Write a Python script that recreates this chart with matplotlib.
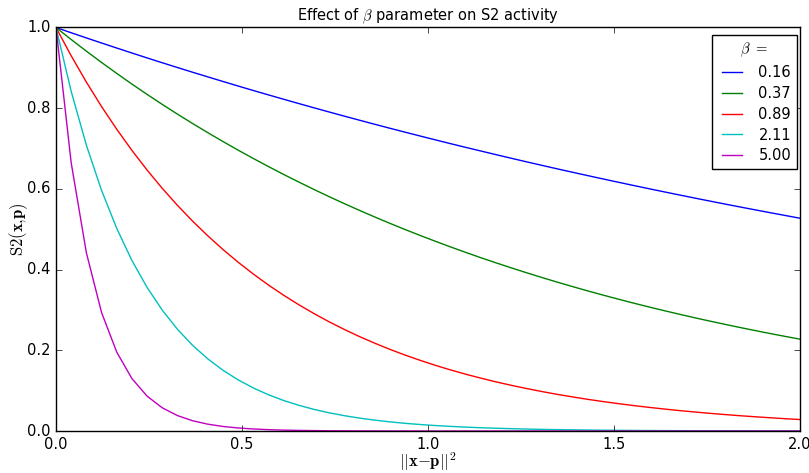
import matplotlib
matplotlib.use("Agg")
import matplotlib.pyplot as plt

plt.style.use("classic")
plt.rcParams["figure.facecolor"] = "white"
plt.rcParams["savefig.facecolor"] = "white"
plt.rcParams["mathtext.fontset"] = "cm"
plt.rcParams["font.size"] = 10.5

# sampling of ||x-p||^2 (50 points from 0 to 2)
dist = [0.0000, 0.0408, 0.0816, 0.1224, 0.1633, 0.2041, 0.2449, 0.2857, 0.3265, 0.3673,
        0.4082, 0.4490, 0.4898, 0.5306, 0.5714, 0.6122, 0.6531, 0.6939, 0.7347, 0.7755,
        0.8163, 0.8571, 0.8980, 0.9388, 0.9796, 1.0204, 1.0612, 1.1020, 1.1429, 1.1837,
        1.2245, 1.2653, 1.3061, 1.3469, 1.3878, 1.4286, 1.4694, 1.5102, 1.5510, 1.5918,
        1.6327, 1.6735, 1.7143, 1.7551, 1.7959, 1.8367, 1.8776, 1.9184, 1.9592, 2.0000]

betas = ["0.16", "0.37", "0.89", "2.11", "5.00"]

s2_b016 = [1.0000, 0.9870, 0.9742, 0.9616, 0.9491, 0.9368, 0.9246, 0.9126, 0.9008, 0.8891,
           0.8776, 0.8662, 0.8549, 0.8438, 0.8329, 0.8221, 0.8114, 0.8009, 0.7905, 0.7802,
           0.7701, 0.7601, 0.7502, 0.7405, 0.7309, 0.7214, 0.7120, 0.7028, 0.6937, 0.6847,
           0.6758, 0.6670, 0.6584, 0.6498, 0.6414, 0.6331, 0.6249, 0.6168, 0.6088, 0.6009,
           0.5931, 0.5854, 0.5778, 0.5703, 0.5629, 0.5556, 0.5484, 0.5413, 0.5343, 0.5273]

s2_b037 = [1.0000, 0.9702, 0.9414, 0.9134, 0.8862, 0.8598, 0.8342, 0.8094, 0.7853, 0.7620,
           0.7393, 0.7173, 0.6960, 0.6753, 0.6552, 0.6357, 0.6168, 0.5984, 0.5806, 0.5633,
           0.5466, 0.5303, 0.5145, 0.4992, 0.4844, 0.4700, 0.4560, 0.4424, 0.4292, 0.4165,
           0.4041, 0.3921, 0.3804, 0.3691, 0.3581, 0.3474, 0.3371, 0.3271, 0.3173, 0.3079,
           0.2987, 0.2899, 0.2812, 0.2729, 0.2648, 0.2569, 0.2492, 0.2418, 0.2346, 0.2276]

s2_b089 = [1.0000, 0.9299, 0.8648, 0.8042, 0.7478, 0.6954, 0.6467, 0.6013, 0.5592, 0.5200,
           0.4836, 0.4497, 0.4182, 0.3889, 0.3616, 0.3363, 0.3127, 0.2908, 0.2704, 0.2515,
           0.2338, 0.2175, 0.2022, 0.1880, 0.1749, 0.1626, 0.1512, 0.1406, 0.1308, 0.1216,
           0.1131, 0.1052, 0.0978, 0.0909, 0.0846, 0.0786, 0.0731, 0.0680, 0.0632, 0.0588,
           0.0547, 0.0508, 0.0473, 0.0440, 0.0409, 0.0380, 0.0354, 0.0329, 0.0306, 0.0284]

s2_b211 = [1.0000, 0.8418, 0.7086, 0.5965, 0.5021, 0.4226, 0.3558, 0.2995, 0.2521, 0.2122,
           0.1786, 0.1504, 0.1266, 0.1066, 0.0897, 0.0755, 0.0636, 0.0535, 0.0450, 0.0379,
           0.0319, 0.0269, 0.0226, 0.0190, 0.0160, 0.0135, 0.0114, 0.0096, 0.0080, 0.0068,
           0.0057, 0.0048, 0.0040, 0.0034, 0.0029, 0.0024, 0.0020, 0.0017, 0.0014, 0.0012,
           0.0010, 0.0009, 0.0007, 0.0006, 0.0005, 0.0004, 0.0004, 0.0003, 0.0003, 0.0002]

s2_b500 = [1.0000, 0.6649, 0.4420, 0.2939, 0.1954, 0.1299, 0.0864, 0.0574, 0.0382, 0.0254,
           0.0169, 0.0112, 0.0075, 0.0050, 0.0033, 0.0022, 0.0015, 0.0010, 0.0006, 0.0004,
           0.0003, 0.0002, 0.0001, 0.0001, 0.0001, 0.0000, 0.0000, 0.0000, 0.0000, 0.0000,
           0.0000, 0.0000, 0.0000, 0.0000, 0.0000, 0.0000, 0.0000, 0.0000, 0.0000, 0.0000,
           0.0000, 0.0000, 0.0000, 0.0000, 0.0000, 0.0000, 0.0000, 0.0000, 0.0000, 0.0000]

series = [s2_b016, s2_b037, s2_b089, s2_b211, s2_b500]
cores = ["b", "g", "r", "c", "m"]

fig = plt.figure(figsize=(8.09, 4.73), dpi=100)
ax = fig.add_axes([56 / 809, 42 / 473, 744 / 809, 403.5 / 473])

for ys, b, c in zip(series, betas, cores):
    ax.plot(dist, ys, color=c, linewidth=1, label=b)

ax.set_xlim(0, 2)
ax.set_ylim(0, 1)
ax.set_xticks([0.0, 0.5, 1.0, 1.5, 2.0])
ax.set_yticks([0.0, 0.2, 0.4, 0.6, 0.8, 1.0])
ax.set_title(r"Effect of $\beta$ parameter on S2 activity", fontsize=10.5)
ax.set_xlabel(r"$||\mathbf{x}{-}\mathbf{p}||^2$", fontsize=12, labelpad=-1)
ax.set_ylabel(r"$\mathrm{S2}(\mathbf{x}{,}\mathbf{p})$", fontsize=12, labelpad=-2)
ax.tick_params(labelsize=10.5)

leg = ax.legend(title=r"$\beta$ $=$", loc="upper right", fontsize=10.5,
                bbox_to_anchor=(1 - 3 / 744, 1 - 7.5 / 403.5), borderaxespad=0,
                labelspacing=0.4)
leg.get_title().set_fontsize(10.5)
leg.get_frame().set_linewidth(1)

fig.savefig("out.png", dpi=100)
